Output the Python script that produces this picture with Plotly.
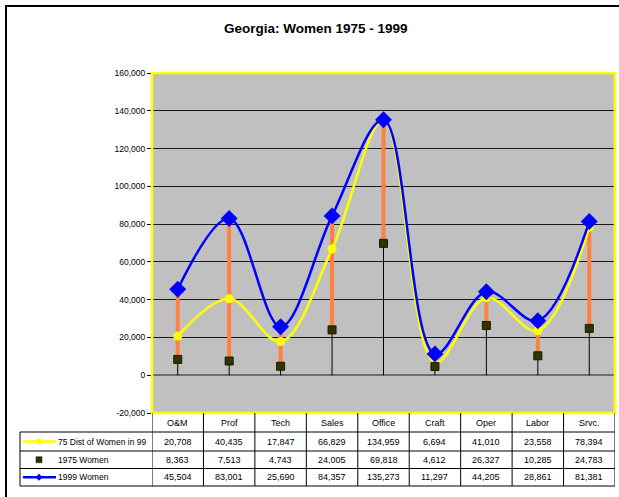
import plotly.graph_objects as go

categories = ["O&M", "Prof", "Tech", "Sales", "Office", "Craft", "Oper", "Labor", "Srvc."]
dist75_in99 = [20708, 40435, 17847, 66829, 134959, 6694, 41010, 23558, 78394]
women_1975 = [8363, 7513, 4743, 24005, 69818, 4612, 26327, 10285, 24783]
women_1999 = [45504, 83001, 25690, 84357, 135273, 11297, 44205, 28861, 81381]
series_names = ["75 Dist of Women in 99", "1975 Women", "1999 Women"]
y_ticks = [-20000, 0, 20000, 40000, 60000, 80000, 100000, 120000, 140000, 160000]
y_tick_labels = [f"{v:,}" for v in y_ticks]

W, H = 619, 497
FONT = "Arial, Liberation Sans, sans-serif"


def px(x):
    return x / W


def py(y):
    return (H - y) / H


fig = go.Figure()

# drop lines (black) from axis to highest point
hi = [max(a, b, c) for a, b, c in zip(dist75_in99, women_1975, women_1999)]
lo = [min(a, b, c) for a, b, c in zip(dist75_in99, women_1975, women_1999)]
dx, dy = [], []
for c, h in zip(categories, hi):
    dx += [c, c, None]
    dy += [0, h, None]
fig.add_trace(go.Scatter(x=dx, y=dy, mode="lines", line=dict(color="black", width=1),
                         hoverinfo="skip", showlegend=False))
# high-low lines (orange)
hx, hy = [], []
for c, l, h in zip(categories, lo, hi):
    hx += [c, c, None]
    hy += [l, h, None]
fig.add_trace(go.Scatter(x=hx, y=hy, mode="lines", line=dict(color="#FF8040", width=4),
                         hoverinfo="skip", showlegend=False))

fig.add_trace(go.Scatter(x=categories, y=dist75_in99, name=series_names[0], mode="lines+markers",
                         line=dict(color="#FFFF00", width=2.5, shape="spline", smoothing=1),
                         marker=dict(symbol="circle", size=9, color="#FFFF00"), showlegend=False))
fig.add_trace(go.Scatter(x=categories, y=women_1975, name=series_names[1], mode="markers",
                         marker=dict(symbol="square", size=8, color="#333300",
                                     line=dict(color="#1a1a00", width=1)), showlegend=False))
fig.add_trace(go.Scatter(x=categories, y=women_1999, name=series_names[2], mode="lines+markers",
                         line=dict(color="#0000FF", width=2.5, shape="spline", smoothing=1),
                         marker=dict(symbol="diamond", size=13, color="#0000FF"), showlegend=False))

shapes = []
annotations = []

# outer frame
shapes.append(dict(type="rect", xref="paper", yref="paper", x0=px(6), x1=px(W + 10),
                   y0=py(H + 10), y1=py(6), line=dict(color="black", width=2)))
# plot border (yellow)
shapes.append(dict(type="rect", xref="x domain", yref="y domain", x0=0, x1=1, y0=0, y1=1,
                   line=dict(color="#FFFF00", width=2.5), layer="above"))

# data table
t_top, r1, r2, r3, t_bot = 413, 432, 451, 468.5, 486
tl = 20
line_style = dict(color="black", width=1)
for yv in [r1, r2, r3, t_bot]:
    shapes.append(dict(type="line", xref="paper", yref="paper", x0=px(tl), x1=px(615),
                       y0=py(yv), y1=py(yv), line=line_style))
shapes.append(dict(type="line", xref="paper", yref="paper", x0=px(tl), x1=px(tl),
                   y0=py(r1), y1=py(t_bot), line=line_style))
for k in range(len(categories) + 1):
    shapes.append(dict(type="line", xref="x", yref="paper", x0=k - 0.5, x1=k - 0.5,
                       y0=py(t_top), y1=py(t_bot), line=line_style))

row_centers = [(r1 + r2) / 2, (r2 + r3) / 2, (r3 + t_bot) / 2]
for c in categories:
    annotations.append(dict(x=c, xref="x", y=py((t_top + r1) / 2), yref="paper", text=c,
                            showarrow=False, font=dict(family=FONT, size=9, color="black"),
                            xanchor="center", yanchor="middle"))
for vals, yc in zip([dist75_in99, women_1975, women_1999], row_centers):
    for c, v in zip(categories, vals):
        annotations.append(dict(x=c, xref="x", y=py(yc), yref="paper", text=f"{v:,}",
                                showarrow=False, font=dict(family=FONT, size=9, color="black"),
                                xanchor="center", yanchor="middle"))
for name, yc in zip(series_names, row_centers):
    annotations.append(dict(x=px(56), xref="paper", y=py(yc), yref="paper", text=name,
                            showarrow=False, font=dict(family=FONT, size=8.5, color="black"),
                            xanchor="left", yanchor="middle"))

# legend keys
yc = row_centers[0]
shapes.append(dict(type="line", xref="paper", yref="paper", x0=px(23), x1=px(56),
                   y0=py(yc), y1=py(yc), line=dict(color="#FFFF00", width=2.5)))
shapes.append(dict(type="circle", xref="paper", yref="paper", x0=px(36), x1=px(42),
                   y0=py(yc + 3), y1=py(yc - 3), fillcolor="#FFFF00", line=dict(width=0)))
yc = row_centers[1]
shapes.append(dict(type="rect", xref="paper", yref="paper", x0=px(36), x1=px(42),
                   y0=py(yc + 3), y1=py(yc - 3), fillcolor="#333300",
                   line=dict(color="#1a1a00", width=0.5)))
yc = row_centers[2]
shapes.append(dict(type="line", xref="paper", yref="paper", x0=px(23), x1=px(56),
                   y0=py(yc), y1=py(yc), line=dict(color="#0000FF", width=2.5)))
shapes.append(dict(type="path", xref="paper", yref="paper",
                   path=f"M {px(39)},{py(yc - 3.5)} L {px(42.5)},{py(yc)} L {px(39)},{py(yc + 3.5)} L {px(35.5)},{py(yc)} Z",
                   fillcolor="#0000FF", line=dict(width=0)))

# title
annotations.append(dict(x=px(316), xref="paper", y=py(28), yref="paper",
                        text="<b>Georgia: Women 1975 - 1999</b>", showarrow=False,
                        font=dict(family=FONT, size=13.5, color="black"),
                        xanchor="center", yanchor="middle"))

fig.update_layout(
    template="none",
    width=W, height=H, margin=dict(l=0, r=0, t=0, b=0, pad=0, autoexpand=False),
    paper_bgcolor="white", plot_bgcolor="#C0C0C0",
    showlegend=False, shapes=shapes, annotations=annotations,
    xaxis=dict(domain=[px(152), px(615)], type="category", range=[-0.5, len(categories) - 0.5],
               showticklabels=False, showgrid=False, zeroline=False, ticks="", showline=False,
               automargin=False, fixedrange=True),
    yaxis=dict(domain=[py(413), py(73)], range=[-20000, 160000], tickvals=y_ticks,
               ticktext=y_tick_labels, showgrid=True, gridcolor="#1a1a1a", gridwidth=1,
               zeroline=True, zerolinecolor="#6e6e6e", zerolinewidth=2,
               ticks="outside", ticklen=4, tickcolor="black", showline=True,
               linecolor="black", linewidth=1, automargin=False,
               tickfont=dict(family=FONT, size=8.5, color="black"), fixedrange=True),
)

fig.write_html("out.html", config={"displayModeBar": False},
               post_script="document.body.style.margin='0';document.body.style.overflow='hidden';")
